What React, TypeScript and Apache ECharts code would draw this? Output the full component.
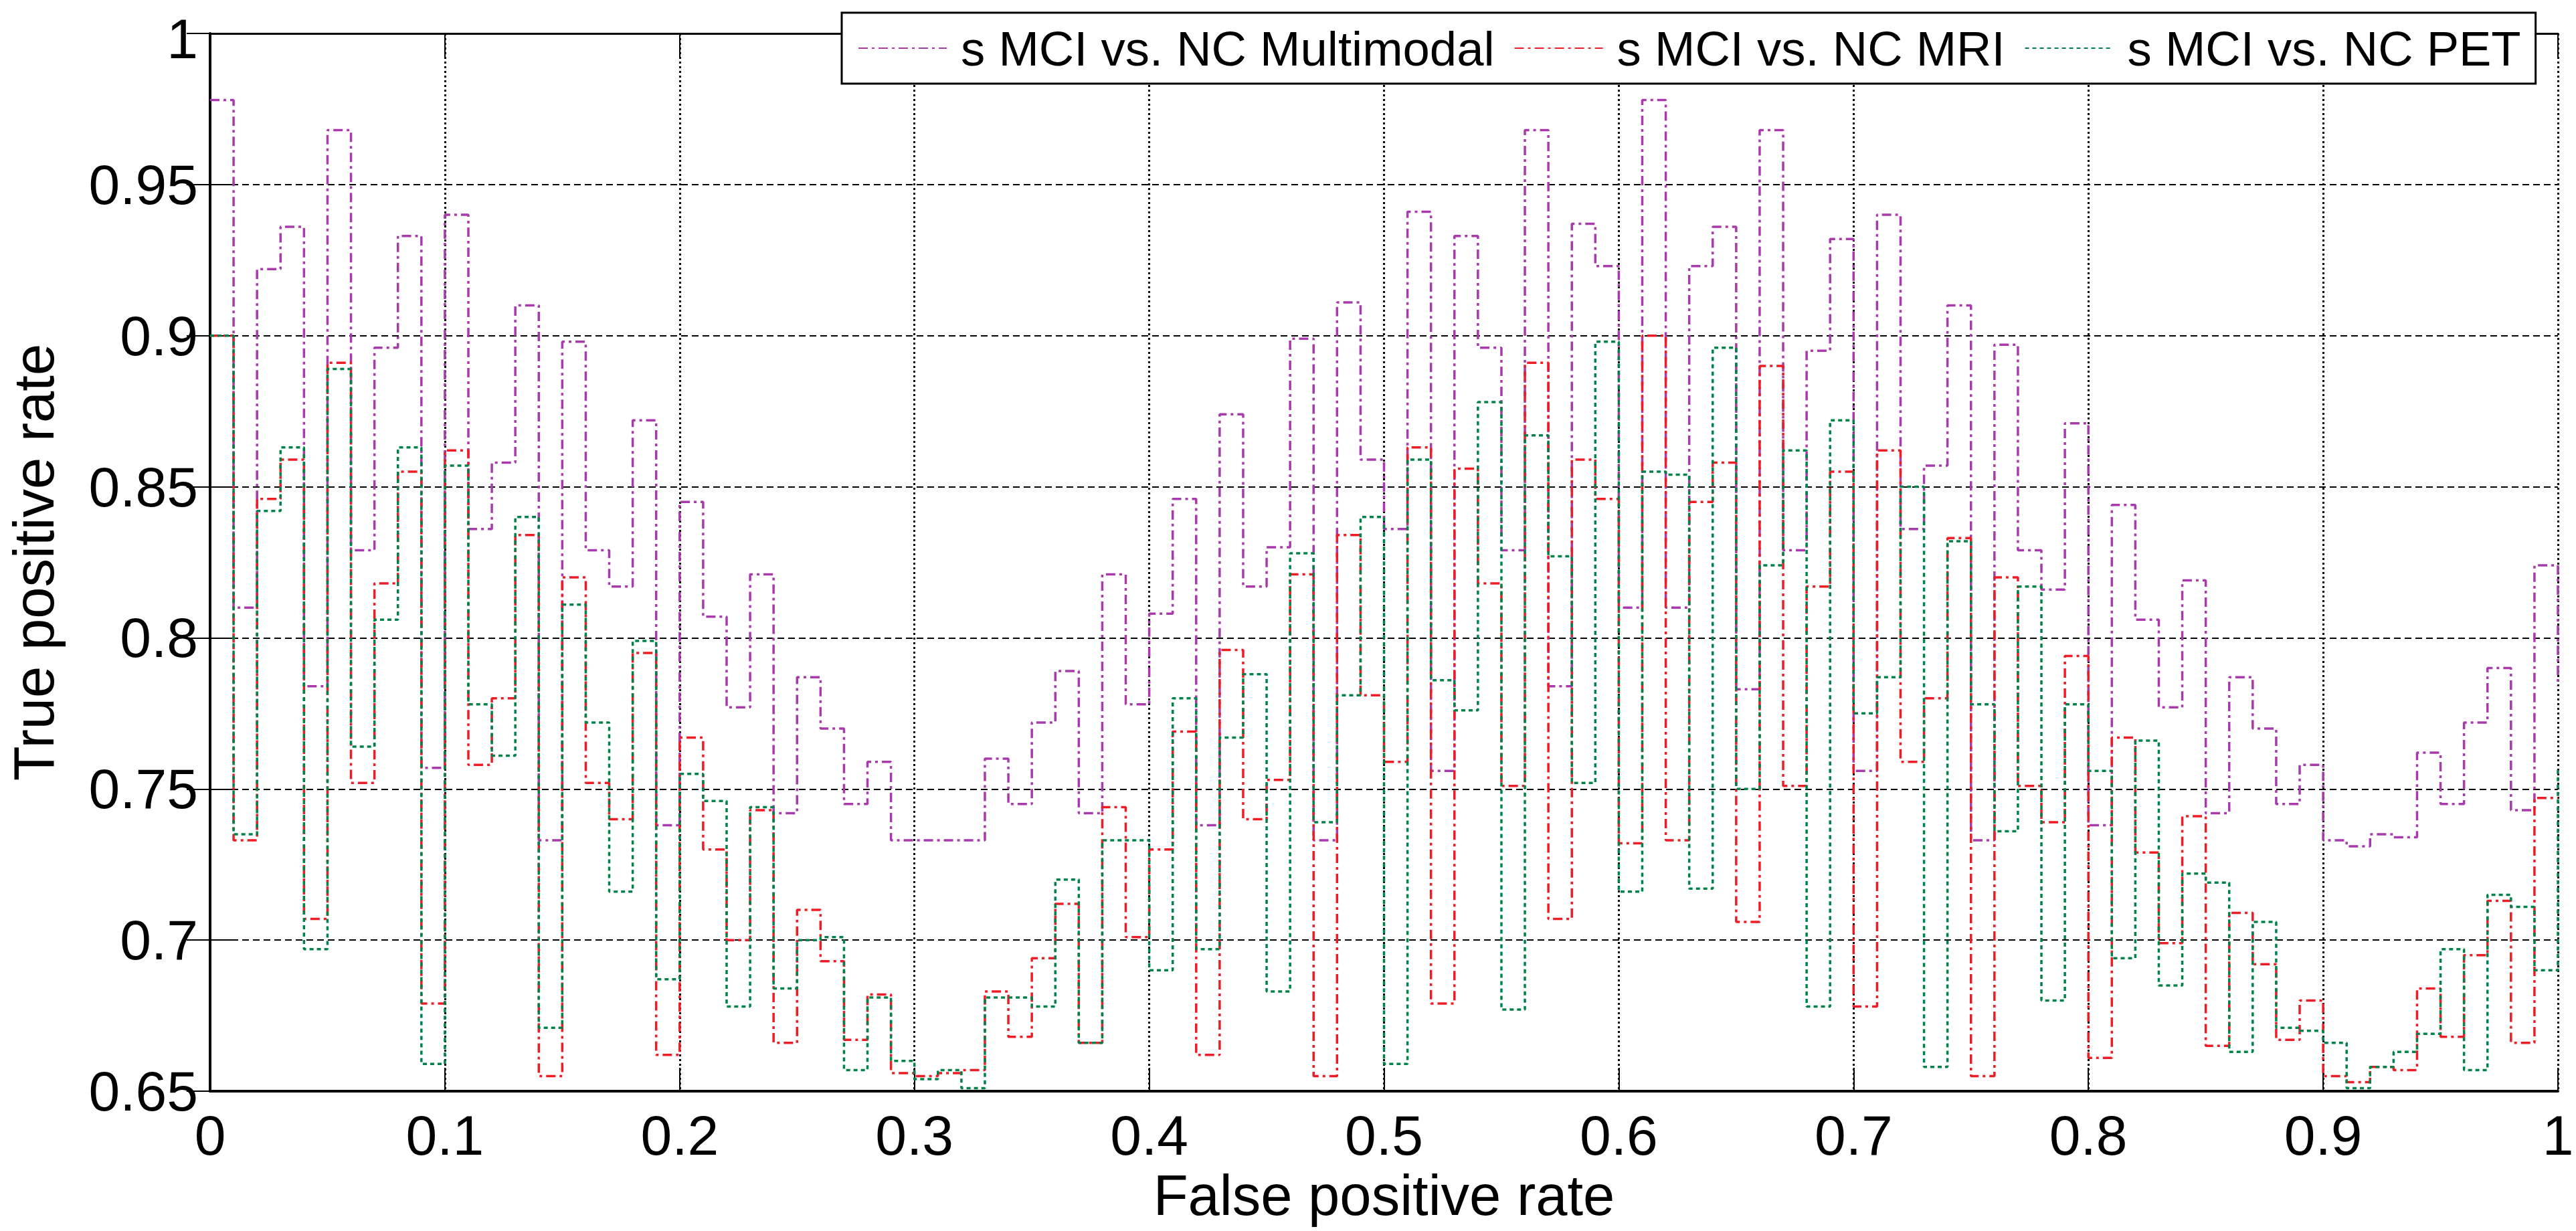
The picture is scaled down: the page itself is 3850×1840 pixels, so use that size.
import React, { useEffect, useRef } from "react";
import * as echarts from "echarts";

const SERIES_NAMES = [
  "s MCI vs. NC Multimodal",
  "s MCI vs. NC MRI",
  "s MCI vs. NC PET",
];

const FPR_STEP = 0.01;

const multimodalTPR = [
  0.978, 0.81, 0.922, 0.936, 0.784, 0.968, 0.829, 0.896, 0.933, 0.757,
  0.94, 0.836, 0.858, 0.91, 0.733, 0.898, 0.829, 0.817, 0.872, 0.738,
  0.845, 0.807, 0.777, 0.821, 0.742, 0.787, 0.77, 0.745, 0.759, 0.733,
  0.733, 0.733, 0.733, 0.76, 0.745, 0.772, 0.789, 0.742, 0.821, 0.778,
  0.808, 0.846, 0.738, 0.874, 0.817, 0.83, 0.899, 0.733, 0.911, 0.859,
  0.836, 0.941, 0.756, 0.933, 0.896, 0.829, 0.968, 0.784, 0.937, 0.923,
  0.81, 0.978, 0.81, 0.923, 0.936, 0.783, 0.968, 0.829, 0.895, 0.932,
  0.756, 0.94, 0.836, 0.857, 0.91, 0.733, 0.897, 0.829, 0.816, 0.871,
  0.738, 0.844, 0.806, 0.777, 0.819, 0.742, 0.787, 0.77, 0.745, 0.758,
  0.733, 0.731, 0.735, 0.734, 0.762, 0.745, 0.772, 0.79, 0.743, 0.824,
  0.784,
];

const mriTPR = [
  0.9, 0.733, 0.846, 0.859, 0.707, 0.891, 0.752, 0.818, 0.855, 0.679,
  0.862, 0.758, 0.78, 0.834, 0.655, 0.82, 0.752, 0.74, 0.795, 0.662,
  0.767, 0.73, 0.7, 0.743, 0.666, 0.71, 0.693, 0.667, 0.682, 0.656,
  0.655, 0.656, 0.657, 0.683, 0.668, 0.694, 0.712, 0.666, 0.744, 0.701,
  0.73, 0.769, 0.662, 0.796, 0.74, 0.753, 0.821, 0.655, 0.834, 0.781,
  0.759, 0.863, 0.679, 0.856, 0.818, 0.751, 0.891, 0.707, 0.859, 0.846,
  0.732, 0.9, 0.733, 0.845, 0.858, 0.706, 0.89, 0.751, 0.817, 0.855,
  0.678, 0.862, 0.759, 0.78, 0.833, 0.655, 0.82, 0.751, 0.739, 0.794,
  0.661, 0.767, 0.729, 0.699, 0.741, 0.665, 0.709, 0.692, 0.667, 0.68,
  0.655, 0.653, 0.658, 0.657, 0.684, 0.668, 0.695, 0.713, 0.666, 0.747,
  0.747,
];

const petTPR = [
  0.9, 0.735, 0.842, 0.863, 0.697, 0.889, 0.764, 0.806, 0.863, 0.659,
  0.857, 0.778, 0.761, 0.84, 0.671, 0.811, 0.772, 0.716, 0.799, 0.687,
  0.755, 0.746, 0.678, 0.744, 0.684, 0.7, 0.701, 0.657, 0.681, 0.66,
  0.654, 0.657, 0.651, 0.681, 0.681, 0.678, 0.72, 0.666, 0.733, 0.733,
  0.69, 0.78, 0.697, 0.767, 0.788, 0.683, 0.828, 0.739, 0.781, 0.84,
  0.659, 0.859, 0.786, 0.776, 0.878, 0.677, 0.867, 0.827, 0.752, 0.898,
  0.716, 0.855, 0.854, 0.717, 0.896, 0.75, 0.824, 0.862, 0.678, 0.872,
  0.775, 0.787, 0.85, 0.658, 0.832, 0.778, 0.736, 0.817, 0.68, 0.778,
  0.756, 0.694, 0.766, 0.685, 0.722, 0.719, 0.663, 0.706, 0.671, 0.67,
  0.666, 0.651, 0.658, 0.663, 0.669, 0.697, 0.657, 0.715, 0.711, 0.69,
  0.757,
];

const SERIES_VALUES = [multimodalTPR, mriTPR, petTPR];
const SERIES_COLORS = ["#a83aac", "#ee1c25", "#00834a"];
const SERIES_DASH: number[][] = [
  [14, 6, 4, 6],
  [14, 6, 4, 6],
  [6, 5],
];

const FONT = "'Liberation Sans', Arial, Helvetica, sans-serif";

export default function App() {
  const ref = useRef<HTMLDivElement>(null);

  useEffect(() => {
    if (!ref.current) return;
    const chart = echarts.init(ref.current, undefined, { renderer: "svg" });

    const series = SERIES_NAMES.map((name, si) => ({
      name,
      type: "line",
      step: "end",
      symbol: "none",
      showSymbol: false,
      clip: true,
      data: SERIES_VALUES[si].map((v, i) => [
        Math.round(i * FPR_STEP * 1000) / 1000,
        v,
      ]),
      lineStyle: {
        color: SERIES_COLORS[si],
        width: 3.5,
        type: SERIES_DASH[si],
      },
      itemStyle: { color: SERIES_COLORS[si] },
      z: 3 + si,
    }));

    const axisCommon = {
      type: "value",
      axisLine: { show: true, lineStyle: { color: "#000", width: 4 } },
      axisTick: {
        show: true,
        inside: true,
        length: 35,
        lineStyle: { color: "#000", width: 2 },
      },
    };

    chart.setOption({
      animation: false,
      backgroundColor: "#ffffff",
      grid: { left: 313, right: 27, top: 41, bottom: 209, containLabel: false },
      legend: {
        data: SERIES_NAMES,
        left: 1258,
        top: 19,
        orient: "horizontal",
        itemWidth: 132,
        itemHeight: 4,
        itemGap: 29,
        padding: [13, 22, 13, 24],
        borderColor: "#000",
        borderWidth: 3,
        backgroundColor: "#ffffff",
        itemStyle: { opacity: 0 },
        textStyle: {
          fontFamily: FONT,
          fontSize: 72.5,
          color: "#000",
          lineHeight: 80,
          padding: [0, 0, 0, 16],
        },
        z: 10,
      },
      xAxis: [
        {
          ...axisCommon,
          position: "bottom",
          min: 0,
          max: 1,
          interval: 0.1,
          axisLabel: {
            show: true,
            fontFamily: FONT,
            fontSize: 84,
            color: "#000",
            margin: 24,
          },
          splitLine: {
            show: true,
            lineStyle: { color: "#000", width: 3, type: [3, 4] },
          },
          name: "False positive rate",
          nameLocation: "middle",
          nameGap: 103,
          nameTextStyle: { fontFamily: FONT, fontSize: 85, color: "#000" },
        },
        {
          ...axisCommon,
          position: "top",
          min: 0,
          max: 1,
          interval: 0.1,
          axisLine: { show: true, lineStyle: { color: "#000", width: 3 } },
          axisLabel: { show: false },
          splitLine: { show: false },
        },
      ],
      yAxis: [
        {
          ...axisCommon,
          position: "left",
          min: 0.65,
          max: 1,
          interval: 0.05,
          axisLabel: {
            show: true,
            fontFamily: FONT,
            fontSize: 84,
            lineHeight: 70,
            color: "#000",
            margin: 18,
            formatter: (v: number) =>
              Math.abs(v - 1) < 1e-9 ? "{top|1}" : String(Math.round(v * 100) / 100),
            rich: {
              top: {
                fontFamily: FONT,
                fontSize: 84,
                lineHeight: 70,
                color: "#000",
                padding: [16, 0, 0, 0],
              },
            },
          },
          splitLine: {
            show: true,
            lineStyle: { color: "#000", width: 2, type: [10, 6] },
          },
          name: "True positive rate",
          nameLocation: "middle",
          nameGap: 221,
          nameTextStyle: { fontFamily: FONT, fontSize: 85, color: "#000" },
        },
        {
          ...axisCommon,
          position: "right",
          min: 0.65,
          max: 1,
          interval: 0.05,
          axisLine: { show: true, lineStyle: { color: "#000", width: 3 } },
          axisLabel: { show: false },
          splitLine: { show: false },
        },
      ],
      series,
    });

    return () => {
      chart.dispose();
    };
  }, []);

  return (
    <div
      ref={ref}
      style={{
        position: "fixed",
        left: 0,
        top: 0,
        width: 3850,
        height: 1840,
        background: "#fff",
      }}
    />
  );
}
